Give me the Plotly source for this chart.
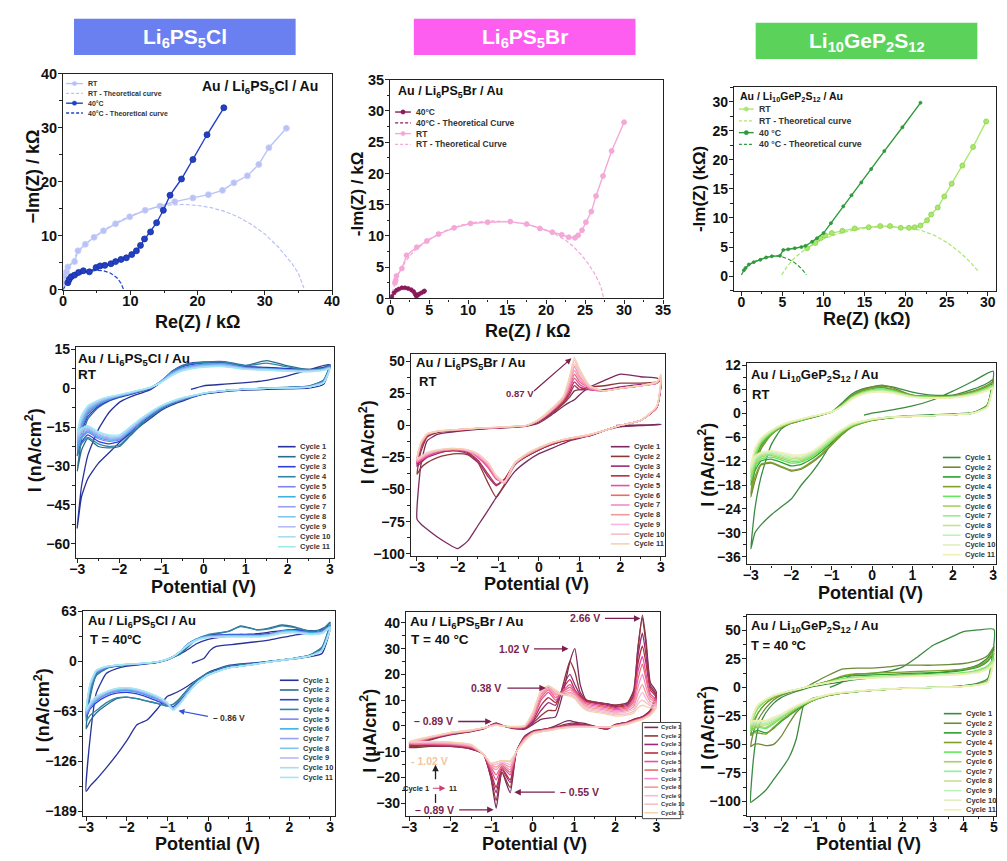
import plotly.graph_objects as go

W, H = 1007, 861
FONT = "Liberation Sans, Arial, Helvetica, sans-serif"

# ======================= DATA =======================
# ---- Nyquist: Li6PS5Cl ----
CL_RT_RE = [0.1, 0.2, 0.5, 0.7, 1.7, 2.2, 3.3, 4.6, 6.0, 7.8, 9.9, 12.2, 14.4, 16.6, 19.3, 21.6, 23.7, 25.4, 27.4, 29.1, 30.6, 33.2]
CL_RT_IM = [1.2, 2.5, 3.3, 4.2, 5.2, 7.2, 8.4, 9.7, 10.9, 12.2, 13.5, 14.7, 15.5, 16.3, 17.0, 17.6, 18.4, 19.8, 21.1, 23.2, 26.3, 29.9]
CL_RT_FIT_RE = [0, 0.5, 1, 2, 4, 6, 8, 10, 12, 14, 16, 18, 20, 22, 24, 26, 28, 30, 32, 34, 35, 35.8]
CL_RT_FIT_IM = [0, 3.0, 4.5, 6.6, 9.2, 11.0, 12.5, 13.7, 14.6, 15.3, 15.7, 15.8, 15.6, 15.2, 14.5, 13.5, 12.1, 10.3, 7.9, 4.9, 3.0, 0.3]
CL_40_RE = [0.7, 0.9, 1.2, 1.7, 2.3, 3.0, 3.9, 4.9, 5.5, 6.2, 7.1, 7.8, 8.6, 9.4, 10.2, 10.9, 11.5, 12.1, 13.0, 13.9, 14.9, 15.9, 17.6, 19.3, 21.4, 23.9]
CL_40_IM = [1.3, 1.9, 2.4, 2.7, 3.2, 3.5, 3.3, 4.1, 4.4, 4.5, 4.8, 5.2, 5.6, 5.9, 6.5, 7.2, 8.2, 9.4, 10.7, 12.4, 14.7, 17.5, 20.5, 24.1, 28.7, 33.7]
CL_40_FIT_RE = [0, 0.5, 1, 2, 3, 4, 5, 6, 7, 8, 8.6, 9]
CL_40_FIT_IM = [0, 1.2, 1.8, 2.6, 3.1, 3.4, 3.6, 3.5, 3.1, 2.2, 1.2, 0]

# ---- Nyquist: Li6PS5Br ----
BR_RT_RE = [0.6, 0.7, 0.8, 1.5, 2.1, 3.4, 4.7, 6.2, 8.2, 10.3, 12.5, 15.4, 17.5, 19.2, 20.8, 22.0, 22.9, 23.7, 24.1, 24.6, 25.1, 25.8, 26.4, 27.3, 28.4, 30.0]
BR_RT_IM = [2.5, 2.9, 3.6, 4.8, 6.9, 8.2, 9.2, 10.3, 11.3, 12.0, 12.2, 12.3, 11.9, 11.2, 10.6, 10.2, 9.8, 9.7, 10.1, 10.9, 12.2, 13.9, 16.4, 19.6, 23.6, 28.2]
BR_RT_FIT_RE = [0, 0.5, 1, 2, 3, 5, 7, 9, 11, 13, 15, 17, 19, 21, 22.5, 23.5, 24.5, 25.5, 26.3, 27.0, 27.4]
BR_RT_FIT_IM = [0, 2.0, 3.8, 6.0, 7.5, 9.5, 10.8, 11.7, 12.2, 12.4, 12.3, 12.0, 11.4, 10.4, 9.3, 8.3, 7.0, 5.4, 3.8, 2.0, 0]
BR_40_RE = [0.2, 0.5, 0.8, 1.1, 1.5, 1.9, 2.3, 2.7, 3.0, 3.2, 3.35, 3.5, 3.7, 4.0, 4.3, 4.4]
BR_40_IM = [0.3, 0.9, 1.3, 1.5, 1.7, 1.7, 1.6, 1.4, 1.1, 0.7, 0.4, 0.5, 0.7, 0.9, 1.1, 1.2]
BR_40_FIT_RE = [0, 0.5, 1, 1.5, 2, 2.5, 3, 3.3]
BR_40_FIT_IM = [0, 0.9, 1.4, 1.6, 1.6, 1.4, 0.9, 0]

# ---- Nyquist: Li10GeP2S12 ----
LG_RT_RE = [8.0, 9.0, 9.6, 10.2, 11.0, 12.3, 13.8, 15.5, 16.9, 18.1, 19.4, 20.4, 21.1, 21.8, 22.6, 23.1, 23.9, 24.7, 25.6, 26.9, 28.2, 29.8]
LG_RT_IM = [4.8, 5.7, 6.5, 7.0, 7.4, 7.8, 8.2, 8.4, 8.6, 8.6, 8.3, 8.3, 8.4, 8.7, 9.6, 10.6, 11.8, 13.7, 15.9, 19.0, 22.2, 26.6]
LG_RT_FIT_RE = [4.9, 5.5, 6.3, 7.2, 8.0, 9, 10, 12, 14, 16, 18, 20, 21.8, 23.5, 25.0, 26.5, 27.8, 28.8]
LG_RT_FIT_IM = [0.2, 1.5, 2.9, 4.0, 4.8, 5.6, 6.4, 7.4, 8.0, 8.4, 8.5, 8.3, 7.9, 7.0, 5.8, 4.2, 2.5, 0.9]
LG_40_RE = [0.3, 0.5, 0.9, 1.5, 2.3, 3.0, 3.7, 4.7, 5.1, 5.7, 6.5, 7.3, 7.8, 8.6, 9.2, 10.0, 10.9, 12.4, 13.4, 14.6, 15.8, 17.4, 19.6, 21.8]
LG_40_IM = [1.0, 1.4, 2.0, 2.4, 2.8, 3.2, 3.4, 3.5, 4.5, 4.6, 4.8, 5.0, 5.2, 5.9, 6.5, 7.4, 9.1, 12.0, 13.9, 16.1, 18.4, 21.5, 25.6, 29.8]
LG_40_FIT_RE = [0, 0.3, 0.8, 1.5, 2.3, 3.2, 4.0, 4.8, 5.6, 6.4, 7.0, 7.5, 7.9]
LG_40_FIT_IM = [0.2, 1.0, 1.8, 2.4, 2.9, 3.3, 3.5, 3.4, 3.0, 2.4, 1.7, 1.0, 0.2]

CYCLE_LABELS = ["Cycle 1", "Cycle 2", "Cycle 3", "Cycle 4", "Cycle 5", "Cycle 6",
                "Cycle 7", "Cycle 8", "Cycle 9", "Cycle 10", "Cycle 11"]

# ---- CV: Li6PS5Cl, RT (nA/cm2) ----
CL_RT_V = [-3, -2.9, -2.75, -2.5, -2.25, -2, -1.75, -1.5, -1.25, -1, -0.75, -0.5, -0.25, 0, 0.5, 1, 1.5, 2, 2.5, 2.85, 3]
CL_RT_INIT_V = [-0.3, 0, 0.5, 1, 1.5, 2, 2.5, 3]
CL_RT_INIT_I = [-0.5, 0.9, 1.5, 2.1, 3.0, 4.7, 7.0, 9.0]
CL_RT_UP = [
    [-54, -38, -26, -16, -9.5, -5.5, -3.5, -2.0, -0.5, 2.5, 6.5, 8.8, 9.8, 10.0, 9.6, 8.3, 8.0, 7.5, 7.2, 8.0, 9.0],
    [-32, -20, -12, -7.5, -5.0, -3.6, -2.5, -1.4, 0.0, 2.5, 6.0, 8.5, 9.5, 10.0, 10.2, 8.8, 10.6, 8.6, 7.2, 7.8, 9.0],
    [-26, -17, -11, -7.0, -4.8, -3.4, -2.4, -1.3, 0.0, 2.6, 6.2, 8.3, 9.2, 9.6, 9.8, 8.2, 7.8, 7.3, 7.0, 7.6, 8.6],
    [-26, -16, -10, -6.5, -4.5, -3.2, -2.2, -1.2, 0.1, 2.8, 6.4, 8.6, 9.5, 9.9, 10.0, 8.6, 9.6, 8.2, 7.0, 7.6, 8.8],
    [-24, -15, -9.5, -6.2, -4.4, -3.1, -2.1, -1.1, 0.2, 2.8, 6.0, 7.8, 8.7, 9.2, 9.4, 7.9, 7.5, 7.1, 6.9, 7.4, 8.2],
    [-23, -14, -9.0, -6.0, -4.2, -3.0, -2.0, -1.0, 0.2, 2.7, 5.8, 7.6, 8.5, 9.0, 9.2, 7.8, 7.4, 7.0, 6.8, 7.3, 8.0],
    [-21, -13, -8.5, -5.7, -4.0, -2.9, -1.9, -0.9, 0.3, 2.6, 5.6, 7.4, 8.3, 8.8, 9.0, 7.6, 7.3, 6.9, 6.7, 7.2, 7.9],
    [-20, -12.5, -8.0, -5.4, -3.8, -2.8, -1.8, -0.8, 0.3, 2.5, 5.4, 7.2, 8.1, 8.6, 8.8, 7.5, 7.2, 6.8, 6.6, 7.1, 7.8],
    [-19, -12, -7.6, -5.1, -3.6, -2.7, -1.7, -0.8, 0.3, 2.4, 5.2, 7.0, 7.9, 8.4, 8.6, 7.4, 7.1, 6.7, 6.5, 7.0, 7.7],
    [-18, -11, -7.2, -4.8, -3.4, -2.6, -1.6, -0.7, 0.4, 2.3, 5.0, 6.8, 7.7, 8.2, 8.4, 7.3, 7.0, 6.6, 6.4, 6.9, 7.6],
    [-17, -10.5, -6.8, -4.6, -3.3, -2.5, -1.6, -0.7, 0.4, 2.2, 4.8, 6.6, 7.5, 8.0, 8.2, 7.2, 6.9, 6.5, 6.3, 6.8, 7.5],
]
CL_RT_DN = [
    [9.0, 1.5, 0.0, -0.3, -0.5, -0.8, -1.3, -2.3, -3.5, -5.0, -6.5, -8.5, -11.5, -14.5, -17.5, -21, -25, -29, -35, -42, -54],
    [9.0, 3.0, 0.8, 0.3, 0.0, -0.4, -1.0, -2.2, -3.2, -4.5, -6.0, -8.0, -11.0, -14.5, -18.5, -22.5, -23.0, -22.5, -19.5, -24, -32],
    [8.6, 2.8, 0.6, 0.2, 0.0, -0.4, -1.0, -2.2, -3.2, -4.4, -5.8, -7.8, -10.5, -13.5, -17.0, -20.5, -21.5, -20.5, -18.0, -21, -26],
    [8.8, 3.0, 0.8, 0.3, 0.0, -0.4, -1.0, -2.2, -3.2, -4.5, -6.0, -8.0, -11.0, -14.0, -18.0, -22.0, -22.5, -21.5, -19.0, -21.5, -26],
    [8.2, 2.6, 0.6, 0.2, 0.0, -0.4, -1.0, -2.1, -3.1, -4.3, -5.6, -7.5, -10.2, -13.2, -16.8, -20.0, -20.5, -19.5, -17.0, -19.5, -24],
    [8.0, 2.5, 0.5, 0.2, 0.0, -0.4, -1.0, -2.1, -3.0, -4.2, -5.5, -7.3, -10.0, -13.0, -16.5, -19.7, -20.0, -19.0, -16.5, -19.0, -23],
    [7.9, 2.4, 0.5, 0.1, -0.1, -0.4, -1.0, -2.0, -3.0, -4.1, -5.4, -7.2, -9.8, -12.8, -16.2, -19.4, -19.6, -18.5, -16.0, -18.0, -21],
    [7.8, 2.3, 0.5, 0.1, -0.1, -0.4, -1.0, -2.0, -2.9, -4.0, -5.3, -7.0, -9.6, -12.5, -15.9, -19.0, -19.2, -18.0, -15.6, -17.0, -20],
    [7.7, 2.2, 0.4, 0.1, -0.1, -0.4, -1.0, -2.0, -2.9, -3.9, -5.2, -6.9, -9.4, -12.3, -15.6, -18.7, -18.8, -17.6, -15.2, -16.5, -19],
    [7.6, 2.1, 0.4, 0.1, -0.1, -0.4, -1.0, -1.9, -2.8, -3.8, -5.1, -6.8, -9.2, -12.0, -15.3, -18.4, -18.4, -17.2, -14.8, -16.0, -18],
    [7.5, 2.0, 0.4, 0.1, -0.1, -0.4, -1.0, -1.9, -2.8, -3.7, -5.0, -6.7, -9.0, -11.8, -15.0, -18.0, -18.0, -16.8, -14.5, -15.5, -17],
]

# ---- CV: Li6PS5Br, RT (nA/cm2) ----
BR_RT_V = [-3, -2.9, -2.75, -2.5, -2.25, -2, -1.75, -1.5, -1.25, -1.05, -0.85, -0.6, -0.3, 0, 0.3, 0.6, 0.75, 0.87, 1.0, 1.25, 1.6, 2, 2.5, 2.9, 3]
BR_RT_INIT_V = [1.9, 2.2, 2.5, 2.8, 3]
BR_RT_INIT_I = [0, 0.2, 0.4, 0.6, 1.0]
BR_RT_UP = [
    [-73, -30, -12, -7, -5.5, -4.5, -3.8, -3, -2.5, -2.1, -1.8, -1.3, -0.5, 2, 8, 15, 18, 20, 24, 30, 35, 40, 38, 37, 36],
    [-38, -20, -9, -5.5, -4.5, -3.8, -3.2, -2.6, -2.2, -1.9, -1.6, -1.1, -0.3, 3, 9, 17, 22, 27, 28, 30, 31, 33, 33, 34, 35],
    [-32, -17, -8, -5, -4.2, -3.6, -3.0, -2.5, -2.1, -1.8, -1.5, -1.0, -0.2, 3.5, 10, 18, 24, 31, 28, 28, 28, 30, 32, 33, 35],
    [-30, -16, -8, -5, -4.1, -3.5, -3.0, -2.4, -2.0, -1.8, -1.5, -1.0, -0.2, 3.5, 10, 19, 26, 34, 30, 28, 27, 29, 31, 33, 36],
    [-29, -15, -7.5, -4.8, -4.0, -3.4, -2.9, -2.3, -1.9, -1.7, -1.4, -0.9, -0.1, 4, 11, 20, 28, 37, 32, 28, 27, 29, 31, 33, 36],
    [-28, -15, -7.5, -4.8, -4.0, -3.4, -2.9, -2.3, -1.9, -1.7, -1.4, -0.9, -0.1, 4, 11, 20, 29, 40, 34, 29, 27, 29, 31, 33, 36],
    [-28, -14, -7, -4.7, -3.9, -3.3, -2.8, -2.2, -1.8, -1.6, -1.3, -0.8, 0, 4, 11, 21, 31, 43, 36, 29, 27, 29, 31, 33, 37],
    [-27, -14, -7, -4.6, -3.9, -3.3, -2.8, -2.2, -1.8, -1.6, -1.3, -0.8, 0, 4, 12, 21, 33, 46, 38, 30, 27, 29, 31, 34, 37],
    [-27, -13, -7, -4.6, -3.8, -3.2, -2.7, -2.1, -1.7, -1.5, -1.2, -0.7, 0, 4.5, 12, 22, 34, 48, 40, 30, 27, 29, 31, 34, 38],
    [-26, -13, -6.5, -4.5, -3.8, -3.2, -2.7, -2.1, -1.7, -1.5, -1.2, -0.7, 0.1, 4.5, 12, 22, 36, 51, 42, 31, 27, 29, 31, 34, 39],
    [-26, -13, -6.5, -4.5, -3.7, -3.1, -2.6, -2.0, -1.6, -1.4, -1.1, -0.6, 0.1, 5, 13, 23, 38, 53, 44, 31, 27, 29, 31, 34, 40],
]
BR_RT_DN = [
    [1, 0.5, 0, -1, -4, -8, -10, -11, -12, -14, -18, -22, -28, -36, -47, -56, -66, -78, -90, -96, -92, -87, -81, -77, -73],
    [35, 14, 4, 0, -4, -8, -9, -10, -11, -12, -15, -19, -24, -31, -46, -56, -45, -29, -23, -22, -23, -25, -29, -33, -38],
    [35, 14, 4, 0, -4, -8, -9, -10, -11, -12, -15, -19, -24, -30, -42, -47, -40, -28, -22, -20, -20, -22, -25, -29, -32],
    [36, 14, 4, 0, -4, -8, -9, -10, -11, -12, -15, -19, -24, -30, -42, -46, -38, -27, -21, -19, -20, -21, -24, -28, -30],
    [36, 14, 4, 0, -4, -7.5, -9, -10, -10.5, -11.5, -14, -18, -23, -30, -44, -42, -33, -25, -20, -19, -19, -21, -24, -27, -29],
    [36, 14, 4, 0, -4, -7.5, -9, -10, -10.5, -11.5, -14, -18, -23, -30, -44, -41, -32, -24, -20, -19, -19, -20, -23, -26, -28],
    [37, 15, 4, 0, -4, -7.5, -9, -9.5, -10, -11, -14, -18, -23, -30, -45, -41, -31, -24, -20, -18.5, -19, -20, -23, -26, -28],
    [37, 15, 4, 0, -4, -7.5, -9, -9.5, -10, -11, -14, -18, -23, -30, -45, -40, -30, -23, -19.5, -18.5, -18.5, -20, -22, -25, -27],
    [38, 15, 4, 0, -4, -7, -8.5, -9.5, -10, -11, -13.5, -17.5, -22, -30, -45, -40, -30, -23, -19.5, -18, -18.5, -19.5, -22, -25, -27],
    [39, 15, 4, 0, -4, -7, -8.5, -9, -10, -11, -13.5, -17.5, -22, -29, -44, -39, -29, -22, -19, -18, -18, -19.5, -22, -24, -26],
    [40, 15, 4, 0, -4, -7, -8.5, -9, -10, -11, -13.5, -17, -22, -29, -44, -39, -29, -22, -19, -18, -18, -19, -21, -24, -26],
]

# ---- CV: Li10GeP2S12, RT (nA/cm2) ----
LG_RT_V = [-3, -2.9, -2.75, -2.5, -2.25, -2, -1.75, -1.5, -1.25, -1, -0.75, -0.5, -0.25, 0, 0.25, 0.5, 1, 1.5, 2, 2.5, 2.85, 3]
LG_RT_INIT_V = [-0.2, 0, 0.5, 1, 1.5, 2, 2.5, 3]
LG_RT_INIT_I = [-0.5, 0, 0.8, 1.8, 3.3, 5.5, 8.0, 10.5]
LG_RT_UP = [
    [-34, -24, -16, -8, -4, -2.5, -1.8, -1.2, -0.5, 0.3, 2.5, 4.8, 6.0, 6.6, 6.8, 6.6, 5.3, 4.5, 4.5, 6.0, 7.5, 8.5],
    [-21, -14, -9, -5.5, -3.6, -2.5, -1.8, -1.1, -0.4, 0.3, 2.2, 4.5, 5.8, 6.6, 7.0, 6.4, 4.5, 4.2, 4.3, 5.5, 7.0, 8.0],
    [-18, -12, -8, -5.2, -3.5, -2.4, -1.7, -1.0, -0.4, 0.3, 2.0, 4.2, 5.5, 6.2, 6.4, 5.9, 4.4, 4.1, 4.2, 5.3, 6.6, 7.5],
    [-20, -13, -8.5, -5.4, -3.6, -2.5, -1.8, -1.1, -0.4, 0.3, 2.1, 4.3, 5.6, 6.3, 6.6, 6.0, 4.5, 4.2, 4.3, 5.4, 6.8, 7.8],
    [-17, -11, -7.5, -5.0, -3.4, -2.3, -1.7, -1.0, -0.4, 0.3, 1.9, 4.0, 5.2, 5.9, 6.1, 5.7, 4.3, 4.0, 4.1, 5.1, 6.4, 7.2],
    [-16, -10.5, -7.2, -4.8, -3.3, -2.3, -1.6, -0.9, -0.3, 0.3, 1.8, 3.9, 5.1, 5.7, 5.9, 5.5, 4.2, 4.0, 4.1, 5.0, 6.2, 7.0],
    [-15, -10, -7.0, -4.7, -3.2, -2.2, -1.6, -0.9, -0.3, 0.3, 1.8, 3.8, 5.0, 5.6, 5.8, 5.4, 4.2, 3.9, 4.0, 4.9, 6.0, 6.8],
    [-14.5, -9.5, -6.8, -4.6, -3.1, -2.2, -1.5, -0.9, -0.3, 0.3, 1.7, 3.7, 4.9, 5.5, 5.6, 5.3, 4.1, 3.9, 4.0, 4.8, 5.9, 6.6],
    [-14, -9.2, -6.6, -4.5, -3.0, -2.1, -1.5, -0.8, -0.3, 0.3, 1.7, 3.6, 4.8, 5.4, 5.5, 5.2, 4.1, 3.8, 3.9, 4.7, 5.8, 6.5],
    [-13.5, -9, -6.4, -4.4, -3.0, -2.1, -1.5, -0.8, -0.3, 0.3, 1.6, 3.5, 4.7, 5.3, 5.4, 5.1, 4.0, 3.8, 3.9, 4.6, 5.7, 6.4],
    [-13, -8.8, -6.2, -4.3, -2.9, -2.0, -1.4, -0.8, -0.3, 0.3, 1.6, 3.4, 4.6, 5.2, 5.3, 5.0, 4.0, 3.7, 3.8, 4.5, 5.6, 6.3],
]
LG_RT_DN = [
    [10.5, 2.0, 0.2, -0.2, -0.4, -0.6, -0.9, -1.2, -1.6, -2.2, -3.0, -5.0, -7.5, -11.5, -15, -18, -21.5, -23.5, -25.5, -28, -30, -34],
    [8.5, 2.0, 0.0, -0.4, -0.6, -0.8, -1.1, -1.4, -1.8, -2.5, -3.5, -5.5, -8.0, -10.5, -12.5, -14.0, -14.5, -13.5, -12.5, -13.0, -17, -21],
    [8.0, 1.8, 0.0, -0.4, -0.6, -0.8, -1.1, -1.4, -1.7, -2.4, -3.3, -5.0, -7.3, -9.6, -11.5, -12.8, -13.2, -12.3, -11.5, -12.0, -14.5, -18],
    [7.8, 1.9, 0.0, -0.4, -0.6, -0.8, -1.1, -1.4, -1.8, -2.5, -3.4, -5.3, -7.8, -10.2, -12.2, -13.8, -14.3, -13.3, -12.3, -12.8, -16, -20],
    [7.5, 1.7, 0.0, -0.4, -0.6, -0.8, -1.0, -1.3, -1.7, -2.3, -3.2, -4.8, -7.0, -9.2, -11.0, -12.2, -12.5, -11.7, -11.0, -11.5, -13.5, -17],
    [7.2, 1.6, 0.0, -0.4, -0.6, -0.8, -1.0, -1.3, -1.6, -2.2, -3.1, -4.6, -6.8, -8.9, -10.7, -11.9, -12.1, -11.3, -10.6, -11.0, -13.0, -16],
    [7.0, 1.6, 0.0, -0.4, -0.6, -0.8, -1.0, -1.3, -1.6, -2.2, -3.0, -4.5, -6.6, -8.7, -10.4, -11.6, -11.7, -11.0, -10.3, -10.7, -12.5, -15],
    [6.8, 1.5, 0.0, -0.4, -0.6, -0.8, -1.0, -1.3, -1.6, -2.1, -2.9, -4.4, -6.4, -8.5, -10.2, -11.3, -11.3, -10.7, -10.0, -10.4, -12.0, -14.5],
    [6.6, 1.5, 0.0, -0.4, -0.6, -0.8, -1.0, -1.2, -1.5, -2.1, -2.8, -4.3, -6.2, -8.3, -10.0, -11.0, -11.0, -10.4, -9.8, -10.2, -11.6, -14],
    [6.5, 1.4, 0.0, -0.4, -0.6, -0.8, -1.0, -1.2, -1.5, -2.0, -2.7, -4.2, -6.0, -8.1, -9.8, -10.7, -10.7, -10.1, -9.6, -10.0, -11.2, -13.5],
    [6.4, 1.4, 0.0, -0.4, -0.6, -0.8, -1.0, -1.2, -1.5, -2.0, -2.6, -4.1, -5.8, -7.9, -9.6, -10.4, -10.4, -9.8, -9.4, -9.8, -10.8, -13],
]

# ---- CV: Li6PS5Cl, 40 C (nA/cm2) ----
CL_40_V = [-3, -2.9, -2.75, -2.5, -2.25, -2, -1.75, -1.5, -1.25, -1, -0.86, -0.7, -0.5, -0.3, 0, 0.5, 0.8, 1.2, 1.5, 1.8, 2.1, 2.5, 2.8, 3]
CL_40_INIT_V = [-0.4, -0.1, 0.05, 0.2, 0.7, 1.5, 2.1, 2.6, 3]
CL_40_INIT_I = [-2, 4, 14, 19, 22, 27, 33, 37, 45]
CL_40_UP = [
    [-164, -96, -40, -15, -9, -6, -4.5, -3, -1, 3, 6, 9, 15, 22, 28, 32, 34, 35, 37, 39, 40, 39, 40, 49],
    [-85, -45, -18, -9, -6, -4.5, -3.5, -2.5, -1, 2, 5, 9, 18, 27, 33, 38, 45, 40, 42, 46, 44, 38, 40, 50],
    [-70, -35, -15, -8, -5.5, -4.2, -3.3, -2.3, -0.8, 2.5, 6, 12, 22, 28, 33, 34, 34, 34, 35, 38, 40, 37, 38, 46],
    [-75, -40, -17, -8.5, -6, -4.5, -3.5, -2.5, -1, 2, 5, 10, 20, 28, 34, 38, 44, 40, 41, 45, 43, 38, 40, 49],
    [-68, -33, -14, -7.5, -5.2, -4, -3.2, -2.2, -0.7, 2.5, 6, 12, 22, 28, 32, 33, 33, 33, 34, 38, 39, 36, 37, 45],
    [-66, -32, -13, -7.2, -5, -3.9, -3.1, -2.1, -0.6, 2.6, 6, 12, 22, 28, 32, 33, 33, 33, 34, 38, 39, 36, 37, 45],
    [-65, -31, -13, -7, -4.9, -3.8, -3, -2, -0.6, 2.6, 6, 12, 21, 27, 31, 32, 32, 32, 34, 37, 38, 35, 37, 44],
    [-64, -30, -12, -6.8, -4.8, -3.7, -3, -2, -0.5, 2.7, 6, 12, 21, 27, 31, 32, 32, 32, 33, 37, 38, 35, 36, 44],
    [-63, -29, -12, -6.6, -4.7, -3.6, -2.9, -1.9, -0.5, 2.7, 6, 12, 21, 27, 31, 32, 32, 32, 33, 36, 37, 35, 36, 43],
    [-62, -28, -11.5, -6.4, -4.6, -3.5, -2.8, -1.9, -0.4, 2.8, 6, 12, 21, 27, 30, 31, 31, 31, 33, 36, 37, 34, 36, 43],
    [-61, -27, -11, -6.2, -4.5, -3.4, -2.8, -1.8, -0.4, 2.8, 6, 12, 20, 26, 30, 31, 31, 31, 32, 35, 36, 34, 35, 42],
]
CL_40_DN = [
    [45, 10, 6, 3, 1.5, 0, -1.5, -3, -5, -14, -24, -31, -37, -41, -44, -60, -74, -80, -100, -118, -134, -149, -157, -164],
    [46, 18, 8, 4, 2, 0, -2, -4, -6, -15, -25, -35, -47, -54, -56, -53, -50, -47, -45, -47, -55, -65, -75, -85],
    [46, 16, 7, 3.5, 1.5, -0.5, -2.5, -5, -7, -16, -27, -38, -50, -57, -55, -50, -45, -41, -39, -40, -44, -52, -60, -70],
    [49, 18, 8, 4, 2, 0, -2, -4, -6, -15, -25, -35, -47, -54, -56, -53, -50, -47, -45, -46, -52, -62, -68, -75],
    [45, 15, 7, 3.5, 1.5, -0.5, -3, -6, -8, -17, -28, -39, -52, -59, -55, -48, -43, -39, -37, -38, -42, -50, -58, -68],
    [45, 15, 7, 3.5, 1.5, -0.5, -3, -6, -8, -17, -28, -39, -52, -59, -54, -47, -42, -38, -36, -37, -41, -49, -57, -66],
    [44, 15, 7, 3.5, 1.5, -0.5, -3, -6, -8, -17, -28, -40, -53, -60, -54, -46, -41, -37, -35, -36, -40, -48, -56, -65],
    [44, 14, 7, 3.5, 1.5, -0.5, -3, -6, -8, -17, -28, -40, -53, -60, -53, -45, -40, -36, -34, -35, -39, -47, -55, -64],
    [43, 14, 7, 3.5, 1.5, -0.5, -3, -6, -8, -17, -28, -40, -53, -61, -53, -45, -40, -36, -34, -35, -39, -46, -54, -63],
    [43, 14, 7, 3.5, 1.5, -0.5, -3, -6, -8, -17, -28, -40, -54, -61, -52, -44, -39, -35, -33, -34, -38, -45, -53, -62],
    [42, 14, 7, 3.5, 1.5, -0.5, -3, -6, -8, -17, -28, -41, -54, -62, -52, -44, -39, -35, -33, -34, -38, -44, -52, -61],
]

# ---- CV: Li6PS5Br, 40 C (uA/cm2) ----
BR_40_V = [-3, -2.5, -2, -1.5, -1.2, -1.02, -0.89, -0.75, -0.55, -0.4, -0.2, 0, 0.2, 0.38, 0.55, 0.75, 0.9, 1.02, 1.15, 1.3, 1.8, 2, 2.3, 2.45, 2.55, 2.66, 2.75, 2.85, 3]
BR_40_UP = [
    [-8.5, -5.5, -3.5, -2.2, -1.2, 0.3, 1.2, 0.2, -0.8, -1.2, -1.3, 0.5, 2.5, 3.0, 3.5, 14, 25, 30, 16, 10, 8.5, 8, 9, 14, 30, 43, 33, 17, 13],
    [-8, -5.2, -3.3, -2.1, -1.1, 0.2, 1.0, 0.2, -0.7, -1.1, -1.0, 1, 4, 6, 6, 17, 25, 21, 13, 10, 8.5, 8, 9, 13, 30, 42, 31, 16, 12],
    [-7.5, -5, -3.2, -2, -1, 0.2, 0.9, 0.2, -0.6, -1.0, -0.8, 1.5, 6, 9, 8, 16, 20, 16, 12, 9.5, 8.5, 7.5, 8.5, 12, 27, 36, 27, 15, 11.5],
    [-7.5, -5, -3.1, -2, -1, 0.1, 0.8, 0.1, -0.6, -0.9, -0.7, 2, 8, 11, 9, 15, 18, 14, 11.5, 9.5, 8, 7.2, 8, 11.5, 24, 31, 24, 14, 11],
    [-7, -4.8, -3, -1.9, -1, 0.1, 0.7, 0.1, -0.5, -0.8, -0.5, 2.5, 10, 13, 10, 14, 16, 13.5, 11, 9, 7.5, 6.8, 7.5, 10.5, 21, 27, 20, 12.5, 10],
    [-7, -4.8, -3, -1.9, -0.9, 0, 0.6, 0, -0.5, -0.7, -0.4, 3, 11, 14, 11, 13.5, 15, 13, 10.5, 8.5, 7, 6.3, 7, 9.5, 18, 24, 18, 11.5, 9.5],
    [-6.8, -4.6, -2.9, -1.8, -0.9, 0, 0.5, 0, -0.4, -0.6, -0.3, 3.5, 12, 14.5, 12, 13, 14, 12.5, 10, 8, 6.5, 5.8, 6.5, 8.5, 15, 20, 15, 10.5, 9],
    [-6.6, -4.5, -2.8, -1.8, -0.9, 0, 0.5, 0, -0.4, -0.5, -0.2, 4, 12.5, 15, 12.5, 12.5, 13, 12, 9.5, 7.5, 6, 5.3, 6, 7.5, 12.5, 16, 12.5, 9.5, 8.5],
    [-6.4, -4.4, -2.7, -1.7, -0.8, -0.1, 0.4, -0.1, -0.3, -0.4, -0.1, 4.5, 13, 15.5, 13, 12, 12.5, 11.5, 9, 7, 5.5, 4.8, 5.5, 6.5, 10, 13, 10.5, 8.5, 8],
    [-6.2, -4.3, -2.6, -1.7, -0.8, -0.1, 0.3, -0.1, -0.3, -0.3, 0, 5, 13.5, 15.5, 13.5, 12, 12, 11, 8.5, 6.5, 5, 4.3, 4.8, 5.8, 8.5, 10, 9, 7.8, 7.5],
    [-6, -4.2, -2.5, -1.6, -0.8, -0.1, 0.3, -0.1, -0.2, -0.2, 0.1, 5.5, 14, 15.5, 14, 12, 11.5, 10.5, 8, 6, 4.5, 3.8, 4.2, 5, 7, 8, 7.5, 7, 7],
]
BR_40_DN = [
    [13, 6, 4.5, 3.5, 3, 2.5, 1.5, 0.5, -1.3, 0.8, 1.2, 1.5, 2, 1.5, 0, -1, -1.5, -2, -4, -10, -26, -18, -32, -20, -11, -9, -8, -8, -8.5],
    [12, 6, 4.5, 3.5, 3, 2.5, 1.5, 0.5, -1.2, 0.5, 0.8, 1, 1, 0.5, -0.5, -1, -1.5, -2.2, -4.2, -10, -24, -18, -29, -20, -11, -9, -8, -7.8, -8],
    [11.5, 5.5, 4.2, 3.3, 2.8, 2.3, 1.4, 0.4, -1, 0.3, 0.5, 0.6, 0.5, 0, -0.6, -1.1, -1.6, -2.3, -4.4, -10, -22, -17, -26, -19, -11, -8.8, -7.8, -7.6, -7.5],
    [11, 5.5, 4, 3.2, 2.7, 2.2, 1.3, 0.3, -0.9, 0.2, 0.3, 0.3, 0.2, -0.2, -0.7, -1.2, -1.7, -2.4, -4.6, -10, -21, -16.5, -24, -18, -11, -8.6, -7.6, -7.4, -7.5],
    [10, 5, 3.8, 3, 2.5, 2, 1.2, 0.2, -0.8, 0, 0.1, 0.1, 0, -0.3, -0.8, -1.3, -1.8, -2.5, -4.8, -10, -19, -16, -21, -17, -11, -8.4, -7.4, -7.2, -7],
    [9.5, 5, 3.7, 2.9, 2.4, 1.9, 1.1, 0.1, -0.7, -0.1, -0.1, -0.1, -0.2, -0.4, -0.9, -1.4, -1.9, -2.6, -5, -10, -18, -15.5, -19, -16, -11, -8.2, -7.2, -7, -7],
    [9, 4.8, 3.6, 2.8, 2.3, 1.8, 1, 0, -0.6, -0.2, -0.2, -0.2, -0.3, -0.5, -1, -1.5, -2, -2.7, -5.2, -10, -17, -15, -17, -15.5, -11, -8, -7, -6.8, -6.8],
    [8.5, 4.6, 3.5, 2.7, 2.2, 1.7, 0.9, 0, -0.5, -0.3, -0.3, -0.3, -0.4, -0.6, -1.1, -1.6, -2.1, -2.8, -5.4, -10, -16, -14.5, -16, -15, -11, -7.8, -6.8, -6.6, -6.6],
    [8, 4.4, 3.4, 2.6, 2.1, 1.6, 0.8, -0.1, -0.5, -0.4, -0.4, -0.4, -0.5, -0.7, -1.2, -1.7, -2.2, -2.9, -5.6, -10, -15, -14, -15, -14.8, -11, -7.6, -6.6, -6.4, -6.4],
    [7.5, 4.2, 3.3, 2.5, 2, 1.5, 0.7, -0.1, -0.5, -0.5, -0.5, -0.5, -0.6, -0.8, -1.3, -1.8, -2.3, -3, -5.8, -10, -14, -13.5, -14.2, -14.5, -11, -7.4, -6.4, -6.2, -6.2],
    [7, 4, 3.2, 2.4, 1.9, 1.4, 0.6, -0.2, -0.5, -0.6, -0.6, -0.6, -0.7, -0.9, -1.4, -1.9, -2.4, -3.1, -6, -10, -13.5, -13.5, -14, -14.5, -11, -7.2, -6.2, -6, -6],
]

# ---- CV: Li10GeP2S12, 40 C (nA/cm2) ----
LG_40_V = [-3, -2.9, -2.75, -2.5, -2.25, -2, -1.75, -1.5, -1.25, -1, -0.5, 0, 0.5, 1, 1.5, 2, 2.5, 3, 3.5, 4, 4.5, 4.8, 5]
LG_40_INIT_V = [-0.4, 0, 0.3, 1, 1.5, 2, 2.5, 3, 3.5, 4, 4.5, 5]
LG_40_INIT_I = [0, 4.6, 11, 12.4, 14, 18, 27, 37, 43, 49, 50.5, 51]
LG_40_UP = [
    [-101, -60, -35, -22, -14, -9, -6, -3.5, -1.5, 0.5, 3, 5, 7, 8.5, 9.5, 10.5, 11.5, 12.5, 14, 16, 20, 26, 34],
    [-52, -38, -28, -18, -11, -7, -4.5, -2.5, -0.5, 3, 10, 16, 17, 17, 18, 19.5, 19.5, 19.5, 20, 21, 24, 28, 36],
    [-42, -30, -22, -14, -9, -6, -4, -2.2, -0.5, 1.5, 5, 9, 10.5, 11, 11.5, 12, 12.5, 13, 13.5, 15, 18, 23, 30],
    [-42, -32, -22, -14, -9, -6, -4, -2.2, -0.5, 1.5, 5, 10, 12, 12.5, 13, 13.5, 14, 14.5, 15, 16, 19, 24, 32],
    [-38, -26, -18, -12, -8, -5.5, -3.6, -2, -0.4, 1.5, 4.5, 7.5, 9, 9.5, 10, 10.5, 11, 11.5, 12, 13, 15.5, 19, 26],
    [-36, -25, -17, -11.5, -7.8, -5.4, -3.5, -2, -0.4, 1.5, 4.3, 7.2, 8.7, 9.2, 9.7, 10.2, 10.7, 11.2, 11.7, 12.5, 15, 18.5, 25],
    [-34, -24, -16.5, -11, -7.6, -5.3, -3.4, -1.9, -0.3, 1.5, 4.2, 7, 8.4, 9, 9.5, 10, 10.5, 11, 11.5, 12.3, 14.6, 18, 24],
    [-33, -23, -16, -10.8, -7.4, -5.2, -3.4, -1.9, -0.3, 1.5, 4.1, 6.8, 8.2, 8.8, 9.3, 9.8, 10.3, 10.8, 11.3, 12, 14.2, 17.5, 23],
    [-32, -22.5, -15.5, -10.6, -7.2, -5.1, -3.3, -1.8, -0.3, 1.5, 4, 6.6, 8, 8.6, 9.1, 9.6, 10.1, 10.6, 11.1, 11.8, 13.8, 17, 22],
    [-31, -22, -15, -10.4, -7, -5, -3.2, -1.8, -0.3, 1.5, 3.9, 6.4, 7.8, 8.4, 8.9, 9.4, 9.9, 10.4, 10.9, 11.6, 13.4, 16.5, 21],
    [-30, -21.5, -14.5, -10.2, -6.8, -4.9, -3.1, -1.7, -0.2, 1.5, 3.8, 6.2, 7.6, 8.2, 8.7, 9.2, 9.7, 10.2, 10.7, 11.4, 13, 16, 20],
]
LG_40_DN = [
    [51, 8, 4, 1.5, 0.5, 0, -0.3, -0.8, -1.5, -2.5, -3.5, -5, -7, -10, -15, -45, -62, -72, -81, -90, -96, -99, -101],
    [34, 6, 3, 1.2, 0.4, 0, -0.4, -0.9, -1.6, -2.6, -3.6, -5, -7.5, -12, -16, -22, -32, -43, -50, -51, -49.5, -50, -52],
    [36, 6, 3, 1.2, 0.4, 0, -0.4, -0.9, -1.6, -2.6, -3.6, -5, -7.5, -12, -15.5, -20, -25, -30, -36, -40, -38, -39, -42],
    [30, 6, 3, 1.2, 0.4, 0, -0.4, -0.9, -1.6, -2.6, -3.6, -5, -7.5, -12, -15, -19, -24, -29, -35, -41, -40, -40, -42],
    [32, 5, 2.5, 1, 0.3, 0, -0.4, -0.9, -1.5, -2.5, -3.5, -4.8, -7, -11.5, -14.5, -18, -22.5, -27, -32, -36, -35, -36, -38],
    [26, 5, 2.5, 1, 0.3, 0, -0.4, -0.9, -1.5, -2.5, -3.5, -4.8, -7, -11.5, -14.5, -18, -22, -26, -31, -35, -34, -34, -36],
    [25, 5, 2.5, 1, 0.3, 0, -0.4, -0.9, -1.5, -2.5, -3.4, -4.7, -6.8, -11, -14, -17.5, -21.5, -25.5, -30, -33, -33, -33, -34],
    [24, 4.8, 2.4, 1, 0.3, 0, -0.4, -0.9, -1.5, -2.4, -3.4, -4.6, -6.7, -10.8, -13.7, -17, -21, -25, -29, -32, -32, -32, -33],
    [23, 4.6, 2.3, 1, 0.3, 0, -0.4, -0.9, -1.4, -2.4, -3.3, -4.5, -6.6, -10.6, -13.4, -16.6, -20.5, -24.5, -28, -31, -31, -31, -32],
    [22, 4.5, 2.2, 0.9, 0.3, 0, -0.4, -0.9, -1.4, -2.3, -3.3, -4.4, -6.5, -10.4, -13.2, -16.3, -20, -24, -27, -30, -30, -30, -31],
    [21, 4.4, 2.1, 0.9, 0.3, 0, -0.4, -0.9, -1.4, -2.3, -3.2, -4.3, -6.4, -10.2, -13, -16, -19.5, -23.5, -26, -29, -29, -29, -30],
]

# ---- colours ----
CL_COLORS = ["#26329a", "#2b6c8c", "#3040d6", "#2f86a6", "#7d86f0", "#3fb0e6",
             "#9aa0f4", "#7cc6ef", "#b8b9f7", "#a9dbf4", "#9fe9f4"]
BR_COLORS = ["#7a2a5e", "#8e3838", "#9c2a7a", "#b3303f", "#e64fae", "#ec6a6a",
             "#f48bcb", "#f29a94", "#f6b8de", "#f4c0c5", "#f6d3b0"]
LG_COLORS = ["#3a8a40", "#6e8a35", "#2ba030", "#80a02c", "#5ee85e", "#a8d062",
             "#90f090", "#c9e092", "#baf4ba", "#e0eec2", "#f2efb2"]

# ======================= FIGURE =======================
fig = go.Figure()
ANN, SHP = [], []


def ax_names(n):
    s = "" if n == 1 else str(n)
    return "x" + s, "y" + s


def txt(x, y, s, size=14, color="#111", xa="left", ya="middle", angle=0):
    ANN.append(dict(x=x / W, y=1 - y / H, xref="paper", yref="paper", text=s, showarrow=False,
                    xanchor=xa, yanchor=ya, textangle=angle,
                    font=dict(family=FONT, size=size, color=color)))


def arrow(xh, yh, xt, yt, color, width=1.3):
    ANN.append(dict(x=xh / W, y=1 - yh / H, xref="paper", yref="paper", text="", showarrow=True,
                    ax=xt - xh, ay=yt - yh, axref="pixel", ayref="pixel", arrowhead=2,
                    arrowsize=1, arrowwidth=width, arrowcolor=color, standoff=0))


def hline(x0, x1, y, color, width=1.5, dash=None):
    SHP.append(dict(type="line", xref="paper", yref="paper", x0=x0 / W, x1=x1 / W,
                    y0=1 - y / H, y1=1 - y / H, line=dict(color=color, width=width, dash=dash)))


def vline(x, y0, y1, color, width=1.5):
    SHP.append(dict(type="line", xref="paper", yref="paper", x0=x / W, x1=x / W,
                    y0=1 - y0 / H, y1=1 - y1 / H, line=dict(color=color, width=width)))


def dot(cx, cy, r, color):
    SHP.append(dict(type="circle", xref="paper", yref="paper", x0=(cx - r) / W, x1=(cx + r) / W,
                    y0=1 - (cy + r) / H, y1=1 - (cy - r) / H, fillcolor=color,
                    line=dict(color=color, width=0.5)))


# ---- axes ----
PANELS = [
    (1, (57, 67, 330, 287), [0, 40], [0, 40], 10, 10, 5, 5, 14.5),
    (2, (389, 73, 666, 296), [0, 35], [0, 35], 5, 5, 2.5, 2.5, 14.5),
    (3, (738, 80, 1004, 288), [-0.9, 31], [-2.5, 32.6], 5, 5, 2.5, 2.5, 14),
    (4, (70, 345, 332, 560), [-3.03, 3.1], [-65.3, 16], 1, 15, 0.5, 7.5, 14),
    (5, (410, 353, 668, 558), [-3.15, 3.1], [-101.5, 55.4], 1, 25, 0.5, 12.5, 14),
    (6, (751, 362, 1004, 567), [-3.1, 3.07], [-37.9, 12.5], 1, 6, 0.5, 3, 14),
    (7, (77, 614, 333, 823), [-3.08, 3.12], [-194.7, 64.2], 1, 63, 0.5, 31.5, 14),
    (8, (405, 615, 663, 823), [-3.08, 3.09], [-34.9, 44.4], 1, 10, 0.5, 5, 14),
    (9, (751, 618, 1004, 823), [-3.13, 5.07], [-112.6, 64], 1, 25, 0.5, 12.5, 14),
]
axes_layout = {}
for n, (l, t, r, b), xr, yr, xd, yd, xm, ym, fs in PANELS:
    s = "" if n == 1 else str(n)
    common = dict(showline=True, mirror=True, linecolor="#222", linewidth=1.4, ticks="outside",
                  ticklen=4, tickwidth=1.3, tickcolor="#222", showgrid=False, zeroline=False,
                  tickfont=dict(family=FONT, size=fs, color="#111", weight="bold"), fixedrange=True)
    axes_layout["xaxis" + s] = dict(common, domain=[l / W, r / W], range=xr, anchor="y" + s,
                                    tick0=0, dtick=xd, ticklabelstandoff=-6,
                                    minor=dict(ticks="outside", ticklen=2.5, tickwidth=1,
                                               tickcolor="#222", tick0=0, dtick=xm))
    axes_layout["yaxis" + s] = dict(common, domain=[1 - b / H, 1 - t / H], range=yr, anchor="x" + s,
                                    tick0=0, dtick=yd, ticklabelstandoff=-2,
                                    minor=dict(ticks="outside", ticklen=2.5, tickwidth=1,
                                               tickcolor="#222", tick0=0, dtick=ym))


# ---- Nyquist traces ----
def nyq(n, x, y, color, dash=None, msize=0, width=1.4, symbol="circle", mline=None):
    xa, ya = ax_names(n)
    mode = "lines+markers" if msize else "lines"
    fig.add_trace(go.Scatter(x=x, y=y, mode=mode, xaxis=xa, yaxis=ya, showlegend=False,
                             hoverinfo="skip",
                             line=dict(color=color, width=width, dash=dash),
                             marker=dict(size=msize, color=color, symbol=symbol,
                                         line=dict(color=mline or color, width=0.8))))


DASH = "4px,2px"
CL_RT_C, CL_40_C = "#b9c2f6", "#2140c8"
BR_40_C, BR_RT_C = "#8b1a5a", "#f4a8d8"
LG_RT_C, LG_40_C = "#a8e86c", "#2f9a3c"

nyq(1, CL_RT_FIT_RE, CL_RT_FIT_IM, CL_RT_C, dash=DASH, width=1.2)
nyq(1, CL_40_FIT_RE, CL_40_FIT_IM, CL_40_C, dash=DASH, width=1.2)
nyq(1, CL_RT_RE, CL_RT_IM, CL_RT_C, msize=6, mline="#c8cff8")
nyq(1, CL_40_RE, CL_40_IM, CL_40_C, msize=6, mline="#1a2f9a")

nyq(2, BR_RT_FIT_RE, BR_RT_FIT_IM, BR_RT_C, dash=DASH, width=1.2)
nyq(2, BR_40_FIT_RE, BR_40_FIT_IM, BR_40_C, dash=DASH, width=1.2)
nyq(2, BR_RT_RE, BR_RT_IM, BR_RT_C, msize=5)
nyq(2, BR_40_RE, BR_40_IM, BR_40_C, msize=4)

nyq(3, LG_RT_FIT_RE, LG_RT_FIT_IM, LG_RT_C, dash=DASH, width=1.2)
nyq(3, LG_40_FIT_RE, LG_40_FIT_IM, LG_40_C, dash=DASH, width=1.2)
nyq(3, LG_RT_RE, LG_RT_IM, LG_RT_C, msize=5, mline="#8fd050")
nyq(3, LG_40_RE, LG_40_IM, LG_40_C, msize=3)


# ---- CV traces ----
def add_cv(n, grid, up, dn, colors, init_v=None, init_i=None):
    xa, ya = ax_names(n)
    gd = grid[::-1]
    for k in range(11):
        assert len(up[k]) == len(grid), (n, k, "up", len(up[k]))
        assert len(dn[k]) == len(grid), (n, k, "dn", len(dn[k]))
        xs = list(gd) + list(grid[1:])
        ys = list(dn[k]) + list(up[k][1:])
        if k == 0 and init_v is not None:
            xs = list(init_v) + xs[1:]
            ys = list(init_i) + ys[1:]
        fig.add_trace(go.Scatter(x=xs, y=ys, mode="lines", xaxis=xa, yaxis=ya, showlegend=False,
                                 hoverinfo="skip",
                                 line=dict(color=colors[k], width=1.3, shape="spline", smoothing=0.5)))


add_cv(4, CL_RT_V, CL_RT_UP, CL_RT_DN, CL_COLORS, CL_RT_INIT_V, CL_RT_INIT_I)
add_cv(5, BR_RT_V, BR_RT_UP, BR_RT_DN, BR_COLORS, BR_RT_INIT_V, BR_RT_INIT_I)
add_cv(6, LG_RT_V, LG_RT_UP, LG_RT_DN, LG_COLORS, LG_RT_INIT_V, LG_RT_INIT_I)
add_cv(7, CL_40_V, CL_40_UP, CL_40_DN, CL_COLORS, CL_40_INIT_V, CL_40_INIT_I)
add_cv(8, BR_40_V, BR_40_UP, BR_40_DN, BR_COLORS)
add_cv(9, LG_40_V, LG_40_UP, LG_40_DN, LG_COLORS, LG_40_INIT_V, LG_40_INIT_I)


# ---- CV legends (drawn) ----
def cv_legend(xl0, xl1, xt, y0, y1, colors, fs=7.5):
    for k in range(11):
        yy = y0 + (y1 - y0) * k / 10.0
        hline(xl0, xl1, yy, colors[k], width=1.6)
        txt(xt, yy, "<b>" + CYCLE_LABELS[k] + "</b>", size=fs, color="#333")


cv_legend(275, 293, 295, 447, 549, CL_COLORS)
cv_legend(613, 632, 634, 447, 546, BR_COLORS)
cv_legend(950, 968, 970, 458, 557, LG_COLORS)
cv_legend(277, 296, 298, 685, 784, CL_COLORS)
SHP.append(dict(type="rect", xref="paper", yref="paper", x0=645 / W, x1=684 / W,
                y0=1 - 826 / H, y1=1 - 728 / H, line=dict(color="#444", width=1),
                fillcolor="white"))
cv_legend(647, 661, 662, 733, 820, BR_COLORS, fs=5.8)
cv_legend(951, 969, 971, 719, 817, LG_COLORS)


# ---- Nyquist legends ----
def nyq_legend(xl0, xl1, xt, rows, fs):
    for yy, label, color, dashed, marker in rows:
        hline(xl0, xl1, yy, color, width=1.4, dash="3px,2px" if dashed else None)
        if marker:
            dot((xl0 + xl1) / 2, yy, 2.2, color)
        txt(xt, yy, "<b>" + label + "</b>", size=fs, color="#333")


nyq_legend(60, 77, 80, [(77, "RT", CL_RT_C, False, True),
                        (87, "RT - Theoretical curve", CL_RT_C, True, False),
                        (97, "40°C", CL_40_C, False, True),
                        (107, "40°C - Theoretical curve", CL_40_C, True, False)], 7)
nyq_legend(394, 410, 413, [(106, "40°C", BR_40_C, False, True),
                           (117, "40°C - Theoretical Curve", BR_40_C, True, False),
                           (128, "RT", BR_RT_C, False, True),
                           (139, "RT - Theoretical Curve", BR_RT_C, True, False)], 8.5)
nyq_legend(743, 758, 761, [(103, "RT", LG_RT_C, False, True),
                           (115, "RT - Theoretical curve", LG_RT_C, True, False),
                           (127, "40 °C", LG_40_C, False, True),
                           (139, "40 °C - Theoretical curve", LG_40_C, True, False)], 8.8)

# ---- header boxes ----
HEADERS = [((68, 11, 293, 48), "#6a7ff0", "Li<sub>6</sub>PS<sub>5</sub>Cl"),
           ((413, 11, 638, 48), "#fd5ef0", "Li<sub>6</sub>PS<sub>5</sub>Br"),
           ((760, 15, 985, 52), "#5bd35b", "Li<sub>10</sub>GeP<sub>2</sub>S<sub>12</sub>")]
for (l, t, r, b), col, label in HEADERS:
    SHP.append(dict(type="rect", xref="paper", yref="paper", x0=l / W, x1=r / W, y0=1 - b / H,
                    y1=1 - t / H, fillcolor=col, line=dict(width=0), layer="below"))
    txt((l + r) / 2, (t + b) / 2 + 1, "<b>" + label + "</b>", size=21, color="white", xa="center")

# ---- axis titles ----
TT = 18
txt(26, 172, "<b>−Im(Z) / kΩ</b>", TT, xa="center", angle=-90)
txt(193, 320, "<b>Re(Z) / kΩ</b>", TT, xa="center")
txt(356, 190, "<b>-Im(Z) / kΩ</b>", 17, xa="center", angle=-90)
txt(528, 329, "<b>Re(Z) / kΩ</b>", TT, xa="center")
txt(703, 185, "<b>-Im(Z) (kΩ)</b>", 17, xa="center", angle=-90)
txt(873, 317, "<b>Re(Z) (kΩ)</b>", TT, xa="center")
for xx, yy, unit in [(27, 451, "nA"), (366, 443, "nA"), (710, 465, "nA"),
                     (36, 715, "nA"), (367, 737, "μA"), (710, 733, "nA")]:
    txt(xx, yy, "<b>I (" + unit + "/cm<sup>2</sup>)</b>", TT, xa="center", angle=-90)
for xx, yy in [(199, 590), (537, 587), (877, 596), (204, 852), (535, 852), (875, 852)]:
    txt(xx, yy, "<b>Potential (V)</b>", TT, xa="center")

# ---- panel labels ----
txt(318, 81, "<b>Au / Li<sub>6</sub>PS<sub>5</sub>Cl / Au</b>", 14, xa="right")
txt(395, 86, "<b>Au / Li<sub>6</sub>PS<sub>5</sub>Br / Au</b>", 12.5)
txt(742, 91, "<b>Au / Li<sub>10</sub>GeP<sub>2</sub>S<sub>12</sub> / Au</b>", 10.5)
txt(70, 358, "<b>Au / Li<sub>6</sub>PS<sub>5</sub>Cl / Au</b>", 13.5)
txt(70, 373, "<b>RT</b>", 13.5)
txt(413, 362, "<b>Au / Li<sub>6</sub>PS<sub>5</sub>Br / Au</b>", 13)
txt(416, 381, "<b>RT</b>", 13)
txt(753, 374, "<b>Au / Li<sub>10</sub>GeP<sub>2</sub>S<sub>12</sub> / Au</b>", 13)
txt(754, 394, "<b>RT</b>", 13)
txt(80, 625, "<b>Au / Li<sub>6</sub>PS<sub>5</sub>Cl / Au</b>", 13)
txt(82, 643, "<b>T = 40ºC</b>", 13)
txt(407, 626, "<b>Au / Li<sub>6</sub>PS<sub>5</sub>Br / Au</b>", 13.5)
txt(408, 643, "<b>T = 40 °C</b>", 13.5)
txt(753, 630, "<b>Au / Li<sub>10</sub>GeP<sub>2</sub>S<sub>12</sub> / Au</b>", 13)
txt(753, 650, "<b>T = 40 ºC</b>", 13)

# ---- peak annotations ----
PURPLE = "#7a1f4f"
txt(505, 393, "<b>0.87 V</b>", 9.5, color=PURPLE)
arrow(573, 357, 534, 391, PURPLE, 1.2)

txt(207, 723, "<b>– 0.86 V</b>", 8.5, color="#333")
arrow(174, 716, 205, 722, "#3050e0", 1.2)

txt(604, 622, "<b>2.66 V</b>", 10.5, color=PURPLE, xa="right")
arrow(643, 622, 606, 622, PURPLE)
txt(532, 653, "<b>1.02 V</b>", 10.5, color=PURPLE, xa="right")
arrow(570, 653, 534, 653, PURPLE)
txt(504, 693, "<b>0.38 V</b>", 10.5, color=PURPLE, xa="right")
arrow(547, 693, 507, 693, PURPLE)
txt(455, 727, "<b>– 0.89 V</b>", 10.5, color=PURPLE, xa="right")
arrow(492, 727, 457, 727, PURPLE)
txt(450, 767, "<b>- 1.02 V</b>", 10.5, color="#f3c6a2", xa="right")
arrow(435, 771, 435, 787, "#222", 1.3)
vline(435, 801, 810, "#222", 1.3)
txt(430, 795, "<b>Cycle 1</b>", 7.5, color="#222", xa="right")
arrow(445, 795, 431, 795, "#d0406a", 1.2)
txt(447, 795, "<b>11</b>", 7.5, color="#222")
txt(559, 799, "<b>– 0.55 V</b>", 10.5, color=PURPLE)
arrow(515, 799, 557, 799, PURPLE)
txt(456, 817, "<b>– 0.89 V</b>", 10.5, color=PURPLE, xa="right")
arrow(494, 817, 458, 817, PURPLE)

fig.update_layout(width=W, height=H, margin=dict(l=0, r=0, t=0, b=0),
                  paper_bgcolor="white", plot_bgcolor="white",
                  font=dict(family=FONT, color="#111"),
                  showlegend=False, annotations=ANN, shapes=SHP, **axes_layout)

fig.write_html("out.html")
